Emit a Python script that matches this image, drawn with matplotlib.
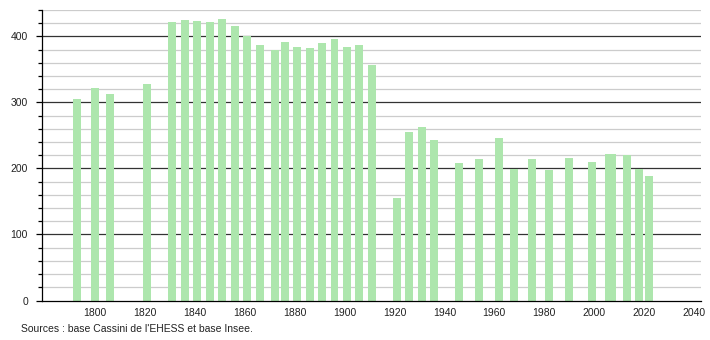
import matplotlib.pyplot as plt
import numpy as np

plt.rcParams['font.family'] = ['Liberation Sans', 'DejaVu Sans']

# census years and population
years = [1793, 1800, 1806, 1821, 1831, 1836, 1841, 1846, 1851, 1856,
         1861, 1866, 1872, 1876, 1881, 1886, 1891, 1896, 1901, 1906,
         1911, 1921, 1926, 1931, 1936, 1946, 1954, 1962, 1968, 1975,
         1982, 1990, 1999, 2006, 2007, 2013, 2018, 2022]
population = [305, 322, 312, 328, 422, 425, 423, 422, 426, 415,
              400, 387, 380, 392, 384, 383, 390, 396, 384, 387,
              356, 155, 255, 263, 243, 208, 214, 246, 199, 215,
              198, 216, 209, 222, 222, 220, 199, 189]

x_ticks = [1800, 1820, 1840, 1860, 1880, 1900, 1920, 1940, 1960, 1980, 2000, 2020, 2040]
source = "Sources : base Cassini de l'EHESS et base Insee."

fig = plt.figure(figsize=(7.1, 3.4), dpi=100)
ax = fig.add_axes([0.059, 0.116, 0.928, 0.855])

# grid: light lines every 20, dark lines every 100
for v in range(20, 441, 20):
    if v % 100 == 0:
        ax.axhline(v, color='#333333', lw=0.9, zorder=1)
    else:
        ax.axhline(v, color='#cccccc', lw=0.9, zorder=1)

ax.bar(years, population, width=3.2, color='#ade6ad', zorder=2)

ax.set_xlim(1778.8, 2042.7)
ax.set_ylim(0, 440)

ax.set_xticks(x_ticks)
ax.set_yticks(range(0, 401, 100))
ax.set_yticks(range(0, 441, 20), minor=True)
ax.tick_params(axis='x', length=0, labelsize=7.5, pad=5, labelcolor='#222222')
ax.tick_params(axis='y', which='major', length=4, width=0.9, labelsize=7.5, pad=6, labelcolor='#222222')
ax.tick_params(axis='y', which='minor', length=3, width=0.9)

for s in ['top', 'right']:
    ax.spines[s].set_visible(False)
ax.spines['left'].set_linewidth(0.9)
ax.spines['bottom'].set_linewidth(0.9)

fig.text(0.029, 0.032, source, fontsize=7.5, ha='left', va='center', color='#222222')

plt.savefig('out.png', dpi=100)
